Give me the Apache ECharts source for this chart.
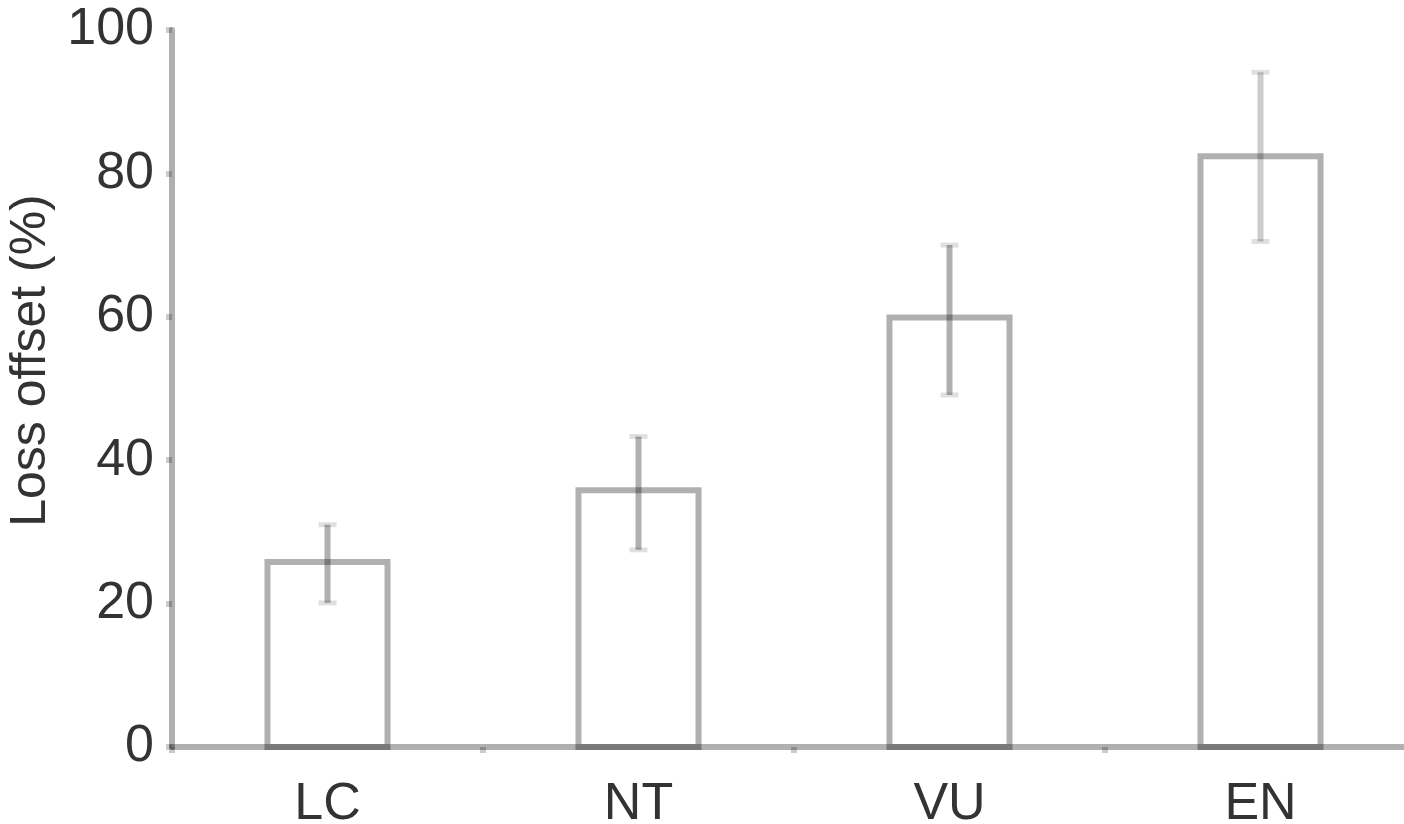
<!DOCTYPE html>
<html>
<head>
<meta charset="utf-8">
<script src="https://cdn.jsdelivr.net/npm/echarts@6/dist/echarts.min.js"></script>
<style>
html,body{margin:0;padding:0;background:#fff;}
#chart{width:1404px;height:824px;}
</style>
</head>
<body>
<div id="chart"></div>
<script>
// ---- data ----
const categories = ['LC', 'NT', 'VU', 'EN'];
const meanLoss   = [25.8, 35.8, 59.9, 82.4];
const errLow     = [20.1, 27.5, 49.1, 70.5];
const errHigh    = [31.0, 43.3, 70.0, 94.1];
const yAxisName  = 'Loss offset (%)';

const LINE = 'rgba(0,0,0,0.31)';
const CAP = 'rgba(0,0,0,0.12)';
const TEXT = '#333333';
const FONT = '"Liberation Sans", Arial, sans-serif';

const barData = categories.map((c, i) => [i, meanLoss[i]]);
const errData = categories.map((c, i) => [i, errLow[i], errHigh[i]]);

const chart = echarts.init(document.getElementById('chart'), null, {renderer: 'canvas'});
chart.setOption({
  animation: false,
  backgroundColor: '#ffffff',
  grid: {left: 172, width: 1244, top: 30, bottom: 77, containLabel: false, outerBoundsMode: 'none'},
  xAxis: {
    type: 'category',
    data: categories,
    boundaryGap: true,
    axisLine: {show: true, lineStyle: {color: LINE, width: 6}},
    axisTick: {show: true, alignWithLabel: false, length: 6, inside: false, lineStyle: {color: 'rgba(0,0,0,0.2)', width: 6}},
    axisLabel: {color: TEXT, fontSize: 52, fontFamily: FONT, margin: 32},
    splitLine: {show: false}
  },
  yAxis: {
    type: 'value',
    min: 0, max: 100, interval: 20,
    name: yAxisName,
    nameLocation: 'middle',
    nameGap: 103,
    nameRotate: 90,
    nameTextStyle: {color: TEXT, fontSize: 50, fontFamily: FONT, padding: [0, 0, 0, 56]},
    axisLine: {show: true, lineStyle: {color: LINE, width: 6}},
    axisTick: {show: true, length: 6, lineStyle: {color: 'rgba(0,0,0,0.2)', width: 6}},
    axisLabel: {color: TEXT, fontSize: 52, fontFamily: FONT, margin: 18},
    splitLine: {show: false}
  },
  series: [
    {
      type: 'custom',
      data: barData,
      z: 2,
      renderItem: function (params, api) {
        const i = api.value(0);
        const base = api.coord([i, 0]);
        const top = api.coord([i, api.value(1)]);
        const w = api.size([1, 0])[0] * 0.386;
        return {
          type: 'rect',
          shape: {x: base[0] - w / 2, y: top[1], width: w, height: base[1] - top[1]},
          style: {fill: 'rgba(255,255,255,0)', stroke: LINE, lineWidth: 6}
        };
      }
    },
    {
      type: 'custom',
      data: errData,
      z: 3,
      renderItem: function (params, api) {
        const i = api.value(0);
        const lo = api.coord([i, api.value(1)]);
        const hi = api.coord([i, api.value(2)]);
        const x = lo[0];
        const half = 9;
        const col = i === 3 ? 'rgba(0,0,0,0.2)' : LINE;
        return {
          type: 'group',
          children: [
            {type: 'line', shape: {x1: x, y1: hi[1], x2: x, y2: lo[1]}, style: {stroke: col, lineWidth: 6}},
            {type: 'line', shape: {x1: x - half, y1: hi[1], x2: x + half, y2: hi[1]}, style: {stroke: CAP, lineWidth: 5}},
            {type: 'line', shape: {x1: x - half, y1: lo[1], x2: x + half, y2: lo[1]}, style: {stroke: CAP, lineWidth: 5}}
          ]
        };
      }
    }
  ]
});
</script>
</body>
</html>
